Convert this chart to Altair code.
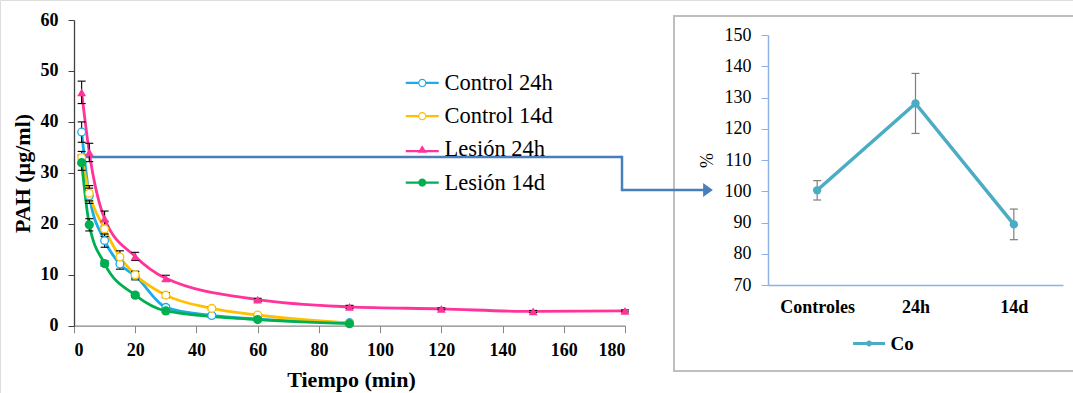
import altair as alt
import pandas as pd

FONT = "Liberation Serif"

# ---- PAH plasma clearance (µg/ml) vs. time (min) ----
series_names = ["Control 24h", "Control 14d", "Lesión 24h", "Lesión 14d"]
series_colors = ["#1CADE8", "#FFC000", "#FF3399", "#00B050"]

t_control_24h = [2.5, 5, 10, 15, 20, 30, 45, 60, 90]
control_24h = [38.0, 25.5, 16.7, 12.1, 9.8, 3.6, 2.0, 1.3, 0.6]
control_24h_err = [2.0, 1.5, 1.3, 1.0, 0.8, 0.4, 0.3, 0.2, 0.2]

t_control_14d = [2.5, 5, 10, 15, 20, 30, 45, 60, 90]
control_14d = [33.0, 26.0, 19.0, 13.5, 10.0, 6.0, 3.4, 2.1, 0.5]
control_14d_err = [1.2, 1.5, 1.5, 1.2, 0.7, 0.5, 0.3, 0.2, 0.2]

t_lesion_24h = [2.5, 5, 10, 20, 30, 60, 90, 120, 150, 180]
lesion_24h = [45.8, 34.0, 21.0, 13.6, 9.3, 5.1, 3.7, 3.3, 2.8, 2.9]
lesion_24h_err = [2.2, 1.8, 1.5, 0.8, 0.6, 0.3, 0.3, 0.2, 0.2, 0.2]

t_lesion_14d = [2.5, 5, 10, 20, 30, 60, 90]
lesion_14d = [32.0, 19.8, 12.2, 6.0, 2.9, 1.2, 0.4]
lesion_14d_err = [1.5, 1.2, 0.5, 0.4, 0.3, 0.2, 0.1]

# ---- relative change (%) ----
groups = ["Controles", "24h", "14d"]
percent = [100.3, 128.1, 89.4]
percent_err = [3.1, 9.6, 4.9]

# legend glyphs: line segment + marker, in symbol units
legend_paths = [
    "M-2.5,-0.17H-0.6V0.17H-2.5Z M0.6,-0.17H2.5V0.17H0.6Z "
    "M-0.62,0A0.62,0.62,0,1,1,0.62,0A0.62,0.62,0,1,1,-0.62,0Z "
    "M-0.45,0A0.45,0.45,0,1,0,0.45,0A0.45,0.45,0,1,0,-0.45,0Z",
    "M-2.5,-0.17H-0.6V0.17H-2.5Z M0.6,-0.17H2.5V0.17H0.6Z "
    "M-0.62,0A0.62,0.62,0,1,1,0.62,0A0.62,0.62,0,1,1,-0.62,0Z "
    "M-0.45,0A0.45,0.45,0,1,0,0.45,0A0.45,0.45,0,1,0,-0.45,0Z",
    "M-2.5,0.1H2.5V0.44H-2.5Z M0,-0.62L0.7,0.5L-0.7,0.5Z",
    "M-2.5,-0.17H2.5V0.17H-2.5Z M-0.62,0A0.62,0.62,0,1,1,0.62,0A0.62,0.62,0,1,1,-0.62,0Z",
]
co_path = ("M-2.5,-0.22H2.5V0.22H-2.5Z "
           "M-0.45,0A0.45,0.45,0,1,1,0.45,0A0.45,0.45,0,1,1,-0.45,0Z")

rows = []
for name, ts, vs, es in [
    ("Control 24h", t_control_24h, control_24h, control_24h_err),
    ("Control 14d", t_control_14d, control_14d, control_14d_err),
    ("Lesión 24h", t_lesion_24h, lesion_24h, lesion_24h_err),
    ("Lesión 14d", t_lesion_14d, lesion_14d, lesion_14d_err),
]:
    for t, v, e in zip(ts, vs, es):
        rows.append({"serie": name, "t": t, "v": v, "lo": v - e, "hi": v + e})
pah = pd.DataFrame(rows)

pct = pd.DataFrame({
    "grupo": groups,
    "pct": percent,
    "lo": [p - e for p, e in zip(percent, percent_err)],
    "hi": [p + e for p, e in zip(percent, percent_err)],
    "serie": ["Co"] * len(groups),
})

legend_df = pd.DataFrame({"leyenda": series_names})
one = pd.DataFrame({"k": [0]})

# ---------------- left panel ----------------
x_scale = alt.Scale(domain=[0, 180], range=[74, 625], nice=False, zero=False)
y_scale = alt.Scale(domain=[0, 60], range=[325.7, 20], nice=False)

x_axis = alt.Axis(
    orient="bottom", offset=-67.3, values=list(range(0, 181, 20)), grid=False,
    domainColor="#868686", tickColor="#868686", tickSize=7, domainWidth=1.3,
    labelFont=FONT, labelFontWeight="bold", labelFontSize=18, labelColor="black",
    labelPadding=9, title="Tiempo (min)", titleFont=FONT, titleFontWeight="bold",
    titleFontSize=22, titleColor="black", titleX=351, titleY=54,
    titleBaseline="middle", titleAlign="center",
)
y_axis = alt.Axis(
    orient="left", offset=-74, values=list(range(0, 61, 10)), grid=False,
    domainColor="#404040", tickColor="#404040", tickSize=6, domainWidth=1.3,
    labelFont=FONT, labelFontWeight="bold", labelFontSize=18, labelColor="black",
    labelPadding=10, title="PAH (µg/ml)", titleFont=FONT, titleFontWeight="bold",
    titleFontSize=22, titleColor="black", titleX=-52, titleY=173, titleAngle=270,
    titleBaseline="middle", titleAlign="center",
)

X = alt.X("t:Q", scale=x_scale, axis=x_axis)
Yv = alt.Y("v:Q", scale=y_scale, axis=y_axis)
color = alt.Color("serie:N", scale=alt.Scale(domain=series_names, range=series_colors), legend=None)

base = alt.Chart(pah)

lines = base.mark_line(interpolate="monotone", strokeWidth=2.8).encode(x=X, y=Yv, color=color)
err_rule = base.mark_rule(color="black", strokeWidth=1.1).encode(x=X, y=alt.Y("lo:Q"), y2="hi:Q")
err_top = base.mark_tick(color="black", thickness=1.1, size=8, orient="horizontal", opacity=1).encode(
    x=X, y=alt.Y("hi:Q")
)
err_bot = base.mark_tick(color="black", thickness=1.1, size=8, orient="horizontal", opacity=1).encode(
    x=X, y=alt.Y("lo:Q")
)
pts_open = base.transform_filter(
    alt.FieldOneOfPredicate(field="serie", oneOf=["Control 24h", "Control 14d"])
).mark_point(shape="circle", filled=False, fill="white", strokeWidth=1.3, size=60, opacity=1).encode(
    x=X, y=Yv, color=color
)
pts_tri = base.transform_filter(alt.datum.serie == "Lesión 24h").mark_point(
    shape="triangle-up", filled=True, size=80, opacity=1
).encode(x=X, y=Yv, color=color)
pts_dot = base.transform_filter(alt.datum.serie == "Lesión 14d").mark_point(
    shape="circle", filled=True, size=85, opacity=1
).encode(x=X, y=Yv, color=color)

left = alt.layer(lines, err_rule, err_top, err_bot, pts_open, pts_tri, pts_dot)

# legend for the curves (only the guide is drawn)
left_legend = alt.Legend(
    title=None, orient="none", legendX=411, legendY=71.7, padding=0,
    symbolSize=174, symbolStrokeWidth=0, symbolOpacity=1, labelOffset=11,
    labelFont=FONT, labelFontSize=22.5, labelColor="black", rowPadding=10.2,
)
legend_left = alt.Chart(legend_df).mark_point(filled=True, opacity=0).encode(
    fill=alt.Fill("leyenda:N", scale=alt.Scale(domain=series_names, range=series_colors), legend=left_legend),
    shape=alt.Shape("leyenda:N", scale=alt.Scale(domain=series_names, range=legend_paths), legend=left_legend),
)

# ---------------- right panel ----------------
AXIS_BLUE = "#8DB3E2"
LINE_BLUE = "#4BACC6"

xr_scale = alt.Scale(type="point", domain=groups, range=[768, 1063], padding=0.5)
yr_scale = alt.Scale(domain=[70, 150], range=[285, 35], nice=False, zero=False)

xr_axis = alt.Axis(
    orient="bottom", offset=-108, ticks=False, grid=False, domainColor=AXIS_BLUE,
    domainWidth=1.5, labelFont=FONT, labelFontWeight="bold", labelFontSize=18,
    labelColor="black", labelPadding=13, labelAngle=0, title=None,
)
yr_axis = alt.Axis(
    orient="left", offset=-768, values=list(range(70, 151, 10)), grid=False,
    domainColor=AXIS_BLUE, tickColor=AXIS_BLUE, tickSize=7, domainWidth=1.5,
    labelFont=FONT, labelFontSize=18, labelColor="black", labelPadding=10,
    title="%", titleFont=FONT, titleFontSize=18, titleFontWeight="normal",
    titleColor="black", titleX=-61, titleY=160, titleAngle=270,
    titleBaseline="middle", titleAlign="center",
)

XR = alt.X("grupo:N", sort=groups, scale=xr_scale, axis=xr_axis)
YR = alt.Y("pct:Q", scale=yr_scale, axis=yr_axis)
rbase = alt.Chart(pct)

r_line = rbase.mark_line(color=LINE_BLUE, strokeWidth=3.5).encode(x=XR, y=YR)
r_err = rbase.mark_rule(color="#7F7F7F", strokeWidth=1.2).encode(x=XR, y=alt.Y("lo:Q"), y2="hi:Q")
r_top = rbase.mark_tick(color="#7F7F7F", thickness=1.2, size=8, orient="horizontal", opacity=1).encode(
    x=XR, y=alt.Y("hi:Q")
)
r_bot = rbase.mark_tick(color="#7F7F7F", thickness=1.2, size=8, orient="horizontal", opacity=1).encode(
    x=XR, y=alt.Y("lo:Q")
)
r_pts = rbase.mark_circle(color=LINE_BLUE, size=70, opacity=1).encode(x=XR, y=YR)

right_legend = alt.Legend(
    title=None, orient="none", legendX=859.6, legendY=334, padding=0,
    symbolSize=164, symbolStrokeWidth=0, symbolOpacity=1, labelOffset=12,
    labelFont=FONT, labelFontSize=19, labelFontWeight="bold", labelColor="black",
)
legend_right = rbase.transform_filter("false").mark_point(filled=True, opacity=1).encode(
    fill=alt.Fill("serie:N", scale=alt.Scale(domain=["Co"], range=[LINE_BLUE]), legend=right_legend),
    shape=alt.Shape("serie:N", scale=alt.Scale(domain=["Co"], range=[co_path]), legend=right_legend),
)

right = alt.layer(r_line, r_err, r_top, r_bot, r_pts, legend_right)

# ---------------- frame and connector arrow ----------------
ARROW = "#4A7EBB"
frame = alt.Chart(one).mark_rect(filled=False, color="#BFBFBF", strokeWidth=2).encode(
    x=alt.value(674), x2=alt.value(1090), y=alt.value(16), y2=alt.value(371)
)
seg1 = alt.Chart(one).mark_rule(color=ARROW, strokeWidth=2.5).encode(
    x=alt.value(79), x2=alt.value(622), y=alt.value(157)
)
seg2 = alt.Chart(one).mark_rule(color=ARROW, strokeWidth=2.5).encode(
    x=alt.value(622), y=alt.value(155.8), y2=alt.value(191.2)
)
seg3 = alt.Chart(one).mark_rule(color=ARROW, strokeWidth=2.5).encode(
    x=alt.value(622), x2=alt.value(704), y=alt.value(190)
)
head = alt.Chart(one).mark_point(
    shape="M-0.7,-1L0.7,0L-0.7,1Z", filled=True, color=ARROW, size=196, opacity=1
).encode(x=alt.value(708), y=alt.value(190))

chart = alt.layer(frame, seg1, seg2, seg3, head, left, right, legend_left).resolve_scale(
    x="independent", y="independent", color="independent",
    fill="independent", shape="independent",
).properties(
    width=1073, height=393, autosize="none", padding=0
).configure_view(stroke=None).configure(background="white").configure_legend(
    labelFont=FONT, labelFontSize=22.5, labelColor="black", labelOffset=11,
    rowPadding=10.2, padding=0, symbolStrokeWidth=0, symbolOpacity=1,
)

chart.save("out.html", embed_options={"renderer": "svg", "actions": False})
